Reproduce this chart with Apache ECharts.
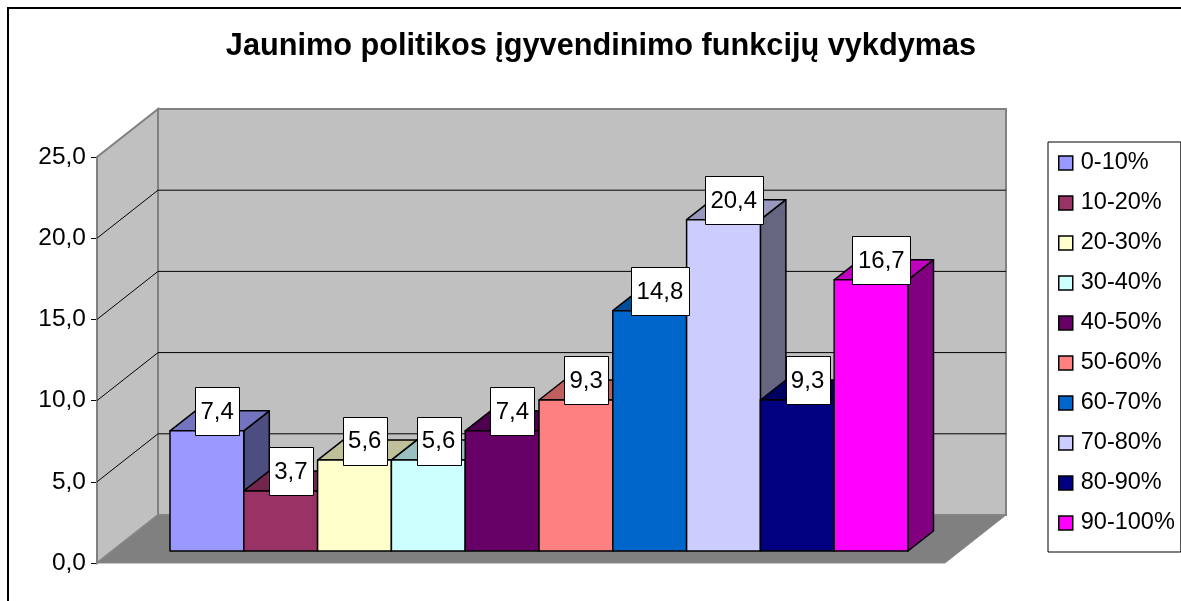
<!DOCTYPE html>
<html>
<head>
<meta charset="utf-8">
<script src="https://cdn.jsdelivr.net/npm/echarts@6/dist/echarts.min.js"></script>
<style>
html,body{margin:0;padding:0;background:#fff;}
#chart{width:1181px;height:601px;}
</style>
</head>
<body>
<div id="chart"></div>
<script>
const titleText = 'Jaunimo politikos įgyvendinimo funkcijų vykdymas';
const categories = ['0-10%', '10-20%', '20-30%', '30-40%', '40-50%', '50-60%', '60-70%', '70-80%', '80-90%', '90-100%'];
const values = [7.4, 3.7, 5.6, 5.6, 7.4, 9.3, 14.8, 20.4, 9.3, 16.7];
const colors = ['#9999FF', '#993366', '#FFFFCC', '#CCFFFF', '#660066', '#FF8080', '#0066CC', '#CCCCFF', '#000080', '#FF00FF'];
const yTicks = [0, 5, 10, 15, 20, 25];

const FONT = '"Liberation Sans", Arial, sans-serif';
const LABEL_SIZE = 24;
const WALL_DX = 61, WALL_DY = -48;   // depth of the walls
const BAR_DX = 25.5, BAR_DY = -20;    // depth of each bar

const measureCtx = document.createElement('canvas').getContext('2d');
function textWidth(s) {
  measureCtx.font = LABEL_SIZE + 'px ' + FONT;
  return measureCtx.measureText(s).width;
}
function shade(hex, f) {
  const n = parseInt(hex.slice(1), 16);
  const r = Math.round(((n >> 16) & 255) * f);
  const g = Math.round(((n >> 8) & 255) * f);
  const b = Math.round((n & 255) * f);
  return 'rgb(' + r + ',' + g + ',' + b + ')';
}
function fmt(v) { return v.toFixed(1).replace('.', ','); }

const chart = echarts.init(document.getElementById('chart'), null, {renderer: 'canvas'});

const wallSeries = {
  type: 'custom',
  name: '__walls',
  xAxisIndex: 0, yAxisIndex: 0,
  z: 1, silent: true, clip: false,
  data: yTicks.map(v => [0, v]),
  renderItem: function (params, api) {
    const v = api.value(1);
    const children = [];
    if (params.dataIndex === 0) {
      const fl = api.coord([0, 0]), fr = api.coord([1, 0]);
      const tl = api.coord([0, 25]), tr = api.coord([1, 25]);
      const o = (p) => [p[0] + WALL_DX, p[1] + WALL_DY];
      children.push({type: 'polygon', z2: 0, shape: {points: [o(tl), o(tr), o(fr), o(fl)]},
        style: {fill: '#C0C0C0', stroke: '#808080', lineWidth: 2}});
      children.push({type: 'polygon', z2: 0, shape: {points: [fl, tl, o(tl), o(fl)]},
        style: {fill: '#C0C0C0', stroke: '#808080', lineWidth: 2}});
      children.push({type: 'polygon', z2: 1, shape: {points: [fl, o(fl), o(fr), fr]},
        style: {fill: '#808080', stroke: '#8a8a8a', lineWidth: 1}});
    }
    if (v > 0 && v < 25) {
      const pf = api.coord([0, v]), pr = api.coord([1, v]);
      children.push({type: 'polyline', z2: 2,
        shape: {points: [pf, [pf[0] + WALL_DX, pf[1] + WALL_DY], [pr[0] + WALL_DX, pr[1] + WALL_DY]]},
        style: {stroke: '#000', lineWidth: 1, fill: null}});
    }
    return {type: 'group', children: children};
  }
};

function barSeries(i) {
  return {
    type: 'custom',
    name: categories[i],
    xAxisIndex: 1, yAxisIndex: 1,
    z: 2, clip: false,
    itemStyle: {color: colors[i], borderColor: '#000', borderWidth: 1.5},
    data: [[i, values[i]]],
    renderItem: function (params, api) {
      const ci = api.value(0), v = api.value(1);
      const w = api.size([1, 0])[0];
      const top = api.coord([ci, v]);
      const base = api.coord([ci, 0]);
      const x0 = top[0] - w / 2, x1 = top[0] + w / 2;
      const yT = top[1], yB = base[1];
      const c = colors[ci];
      const st = (fill) => ({fill: fill, stroke: '#000', lineWidth: 1.5, lineJoin: 'round'});
      const label = fmt(v);
      const cx = (x0 + x1) / 2 + BAR_DX / 2 - 2.5;
      const cy = yT + BAR_DY / 2 - 9.5;
      const bw = Math.round(textWidth(label) + 11);
      const bh = 48;
      return {
        type: 'group',
        children: [
          {type: 'polygon', shape: {points: [[x1, yT], [x1 + BAR_DX, yT + BAR_DY], [x1 + BAR_DX, yB + BAR_DY], [x1, yB]]}, style: st(shade(c, 0.5))},
          {type: 'polygon', shape: {points: [[x0, yT], [x1, yT], [x1 + BAR_DX, yT + BAR_DY], [x0 + BAR_DX, yT + BAR_DY]]}, style: st(shade(c, 0.75))},
          {type: 'rect', shape: {x: x0, y: yT, width: w, height: yB - yT}, style: st(c)},
          {type: 'rect', z2: 99, shape: {x: Math.round(cx - bw / 2) + 0.5, y: Math.round(cy - bh / 2) + 0.5, width: bw, height: bh},
            style: {fill: '#fff', stroke: '#000', lineWidth: 1}},
          {type: 'text', z2: 100, x: cx, y: cy + 1,
            style: {text: label, fontSize: LABEL_SIZE, fontFamily: FONT, fill: '#000', align: 'center', verticalAlign: 'middle'}}
        ]
      };
    }
  };
}

const option = {
  backgroundColor: '#fff',
  animation: false,
  title: {
    text: titleText,
    left: 596, top: 26, textAlign: 'center',
    textStyle: {fontFamily: FONT, fontSize: 30.7, fontWeight: 'bold', color: '#000'}
  },
  legend: {
    orient: 'vertical',
    left: 1048, top: 142,
    data: categories,
    icon: 'rect',
    itemWidth: 14, itemHeight: 14, itemGap: 16,
    padding: [9, 6, 17, 10],
    borderColor: '#000', borderWidth: 1, backgroundColor: '#fff',
    itemStyle: {borderColor: '#000', borderWidth: 1.5},
    textStyle: {fontFamily: FONT, fontSize: 23.5, color: '#000', lineHeight: 24, padding: [0, 0, 0, 3]},
    selectedMode: false
  },
  grid: [
    {left: 97, top: 157, width: 848, height: 406},
    {left: 170, top: 145, width: 738, height: 406}
  ],
  xAxis: [
    {gridIndex: 0, type: 'value', min: 0, max: 1, show: false},
    {gridIndex: 1, type: 'category', data: categories, show: false, boundaryGap: true}
  ],
  yAxis: [
    {gridIndex: 0, type: 'value', min: 0, max: 25, interval: 5,
      axisLine: {show: true, lineStyle: {color: '#000', width: 1}},
      axisTick: {show: true, length: 6, inside: false, lineStyle: {color: '#000'}},
      axisLabel: {formatter: fmt, fontFamily: FONT, fontSize: 24.5, color: '#000', margin: 11},
      splitLine: {show: false}},
    {gridIndex: 1, type: 'value', min: 0, max: 25, show: false, splitLine: {show: false}}
  ],
  graphic: [
    {type: 'polyline', shape: {points: [[8, 601], [8, 8], [1181, 8]]}, style: {stroke: '#000', lineWidth: 2, fill: null}, z: 100}
  ],
  series: [wallSeries].concat(categories.map((_, i) => barSeries(i)))
};
chart.setOption(option);
</script>
</body>
</html>
